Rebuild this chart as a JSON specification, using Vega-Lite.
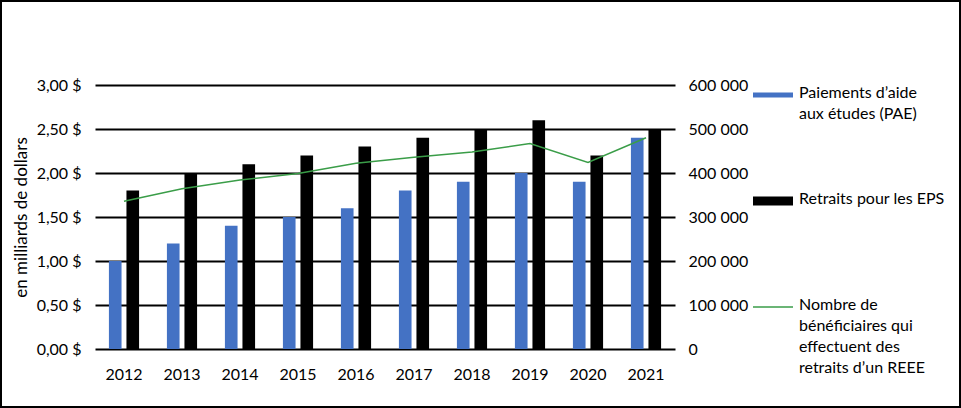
{
  "$schema": "https://vega.github.io/schema/vega-lite/v6.json",
  "width": 959,
  "height": 406,
  "padding": 1,
  "autosize": {"type": "none"},
  "background": "white",
  "config": {
    "font": "Lato",
    "view": {"stroke": "black", "strokeWidth": 2},
    "axis": {"labelFont": "Lato", "labelFontSize": 16, "labelColor": "#000000", "titleFont": "Lato", "titleFontSize": 17, "titleColor": "#000000", "titleFontWeight": "normal"},
    "legend": {"labelFont": "Lato", "labelFontSize": 16, "labelColor": "#000000"}
  },
  "datasets": {
    "bars": [
      {"annee": "2012", "serie": "Paiements d’aide aux études (PAE)", "montant": 1.00},
      {"annee": "2013", "serie": "Paiements d’aide aux études (PAE)", "montant": 1.20},
      {"annee": "2014", "serie": "Paiements d’aide aux études (PAE)", "montant": 1.40},
      {"annee": "2015", "serie": "Paiements d’aide aux études (PAE)", "montant": 1.50},
      {"annee": "2016", "serie": "Paiements d’aide aux études (PAE)", "montant": 1.60},
      {"annee": "2017", "serie": "Paiements d’aide aux études (PAE)", "montant": 1.80},
      {"annee": "2018", "serie": "Paiements d’aide aux études (PAE)", "montant": 1.90},
      {"annee": "2019", "serie": "Paiements d’aide aux études (PAE)", "montant": 2.00},
      {"annee": "2020", "serie": "Paiements d’aide aux études (PAE)", "montant": 1.90},
      {"annee": "2021", "serie": "Paiements d’aide aux études (PAE)", "montant": 2.40},
      {"annee": "2012", "serie": "Retraits pour les EPS", "montant": 1.80},
      {"annee": "2013", "serie": "Retraits pour les EPS", "montant": 2.00},
      {"annee": "2014", "serie": "Retraits pour les EPS", "montant": 2.10},
      {"annee": "2015", "serie": "Retraits pour les EPS", "montant": 2.20},
      {"annee": "2016", "serie": "Retraits pour les EPS", "montant": 2.30},
      {"annee": "2017", "serie": "Retraits pour les EPS", "montant": 2.40},
      {"annee": "2018", "serie": "Retraits pour les EPS", "montant": 2.50},
      {"annee": "2019", "serie": "Retraits pour les EPS", "montant": 2.60},
      {"annee": "2020", "serie": "Retraits pour les EPS", "montant": 2.20},
      {"annee": "2021", "serie": "Retraits pour les EPS", "montant": 2.50}
    ],
    "ligne": [
      {"annee": "2012", "beneficiaires": 336000},
      {"annee": "2013", "beneficiaires": 364000},
      {"annee": "2014", "beneficiaires": 384000},
      {"annee": "2015", "beneficiaires": 399000},
      {"annee": "2016", "beneficiaires": 422000},
      {"annee": "2017", "beneficiaires": 436000},
      {"annee": "2018", "beneficiaires": 448000},
      {"annee": "2019", "beneficiaires": 467000},
      {"annee": "2020", "beneficiaires": 424000},
      {"annee": "2021", "beneficiaires": 480000}
    ]
  },
  "layer": [
    {
      "data": {"name": "bars"},
      "mark": {"type": "bar"},
      "encoding": {
        "x": {
          "field": "annee", "type": "nominal",
          "scale": {"range": [94, 674], "paddingInner": 0.48, "paddingOuter": 0.24},
          "axis": {"title": null, "labelAngle": 0, "ticks": false, "domain": false, "grid": false, "offset": -58, "labelPadding": 17}
        },
        "xOffset": {"field": "serie", "type": "nominal", "sort": ["Paiements d’aide aux études (PAE)", "Retraits pour les EPS"], "scale": {"paddingInner": 0.28, "paddingOuter": 0}},
        "y": {
          "field": "montant", "type": "quantitative",
          "scale": {"domain": [0, 3], "range": [348, 84], "nice": false, "zero": true},
          "axis": {
            "orient": "left", "offset": -94, "values": [0, 0.5, 1, 1.5, 2, 2.5, 3],
            "labelExpr": "replace(format(datum.value, '.2f'), '.', ',') + ' $'",
            "ticks": false, "domain": false, "grid": true, "gridColor": "#000000", "gridWidth": 2, "gridOpacity": 1,
            "labelPadding": 14, "title": "en milliards de dollars", "titlePadding": 6
          }
        },
        "color": {
          "field": "serie", "type": "nominal",
          "scale": {"domain": ["Paiements d’aide aux études (PAE)", "Retraits pour les EPS", "Nombre de bénéficiaires qui effectuent des retraits d’un REEE"], "range": ["#4472C4", "#000000", "#3A9D48"]},
          "legend": {
            "title": null, "orient": "none", "legendX": 751, "legendY": 73, "padding": 0,
            "gridAlign": "all", "rowPadding": 16, "symbolSize": 1600, "labelOffset": 5, "labelBaseline": "top", "labelLimit": 300,
            "labelExpr": "datum.value === 'Paiements d’aide aux études (PAE)' ? ['Paiements d’aide', 'aux études (PAE)'] : datum.value === 'Retraits pour les EPS' ? ['Retraits pour les EPS'] : ['Nombre de', 'bénéficiaires qui', 'effectuent des', 'retraits d’un REEE']",
            "encode": {
              "symbols": {"update": {
                "size": {"value": 1600},
                "shape": {"signal": "datum.value === 'Nombre de bénéficiaires qui effectuent des retraits d’un REEE' ? 'stroke' : datum.value === 'Paiements d’aide aux études (PAE)' ? 'M-1,-0.13H1V0.13H-1Z' : 'M-1,-0.23H1V0.23H-1Z'"},
                "stroke": {"signal": "datum.value === 'Nombre de bénéficiaires qui effectuent des retraits d’un REEE' ? '#3A9D48' : 'transparent'"},
                "strokeWidth": {"value": 1.5}
              }},
              "labels": {"update": {"dy": {"value": -10}, "lineHeight": {"value": 21}}}
            }
          }
        }
      }
    },
    {
      "data": {"name": "ligne"},
      "mark": {"type": "line", "color": "#3A9D48", "strokeWidth": 1.5},
      "encoding": {
        "x": {"field": "annee", "type": "nominal"},
        "y": {
          "field": "beneficiaires", "type": "quantitative",
          "scale": {"domain": [0, 600000], "range": [348, 84], "nice": false},
          "axis": {
            "orient": "right", "offset": -285, "values": [0, 100000, 200000, 300000, 400000, 500000, 600000],
            "labelExpr": "replace(format(datum.value, ','), ',', ' ')",
            "ticks": false, "domain": false, "grid": false, "labelPadding": 13, "title": null
          }
        }
      }
    }
  ],
  "resolve": {"scale": {"y": "independent"}}
}
